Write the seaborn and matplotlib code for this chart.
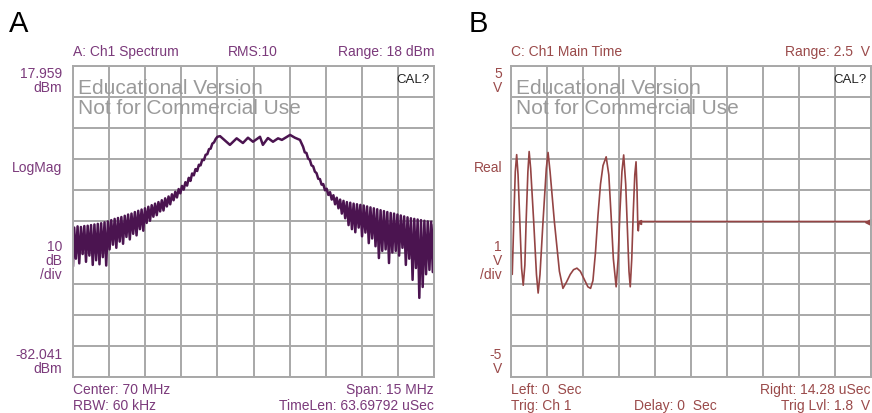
import numpy as np
import pandas as pd
import matplotlib
matplotlib.use("Agg")
import matplotlib.pyplot as plt
import seaborn as sns

# ---------------- data: panel A (spectrum) ----------------
freq_mhz = [
    62.50, 62.55, 62.62, 62.69, 62.76, 62.83, 62.90, 62.97, 63.04, 63.11,
    63.18, 63.25, 63.32, 63.39, 63.46, 63.53, 63.60, 63.67, 63.74, 63.81,
    63.88, 63.95, 64.02, 64.09, 64.16, 64.23, 64.30, 64.37, 64.44, 64.51,
    64.58, 64.65, 64.72, 64.79, 64.86, 64.93, 65.00, 65.07, 65.14, 65.21,
    65.28, 65.35, 65.42, 65.49, 65.56, 65.63, 65.70, 65.77, 65.84, 65.91,
    65.98, 66.05, 66.12, 66.19, 66.26, 66.33, 66.40, 66.47, 66.54, 66.61,
    66.68, 66.75, 66.82, 66.89, 66.96, 67.03, 67.10, 67.17, 67.24, 67.31,
    67.38, 67.45, 67.52, 67.59, 67.66, 67.73, 67.80, 67.87, 67.94, 68.01,
    68.08, 68.15, 68.22, 68.29, 68.36, 68.43, 68.50,
    68.61, 69.02, 69.30, 69.56, 69.77, 69.98, 70.27, 70.39, 70.60, 70.81,
    71.02, 71.18, 71.52, 71.72, 71.93,
    72.06, 72.13, 72.20, 72.27, 72.34, 72.41, 72.48, 72.55, 72.62, 72.69,
    72.76, 72.83, 72.90, 72.97, 73.04, 73.11, 73.18, 73.25, 73.32, 73.39,
    73.46, 73.53, 73.60, 73.67, 73.74, 73.81, 73.88, 73.95, 74.02, 74.09,
    74.16, 74.23, 74.30, 74.37, 74.44, 74.51, 74.58, 74.65, 74.72, 74.79,
    74.86, 74.93, 75.00, 75.07, 75.14, 75.21, 75.28, 75.35, 75.42, 75.49,
    75.56, 75.63, 75.70, 75.77, 75.84, 75.91, 75.98, 76.05, 76.12, 76.19,
    76.26, 76.33, 76.40, 76.47, 76.54, 76.61, 76.68, 76.75, 76.82, 76.89,
    76.96, 77.03, 77.10, 77.17, 77.24, 77.31, 77.38, 77.45, 77.50,
]
level_dbm = [
    -46.5, -34.0, -44.0, -33.6, -45.5, -33.8, -42.5, -33.5, -45.0, -33.4,
    -43.0, -33.2, -46.0, -33.0, -44.5, -32.8, -45.8, -32.6, -43.5, -32.3,
    -46.2, -32.0, -41.0, -31.6, -39.5, -31.2, -40.5, -30.9, -38.5, -30.6,
    -39.2, -30.2, -37.0, -29.8, -37.8, -29.5, -36.0, -29.0, -36.5, -28.6,
    -34.5, -28.2, -35.0, -27.8, -32.5, -27.3, -31.8, -26.8, -30.5, -26.3,
    -30.0, -25.8, -28.8, -25.2, -28.5, -24.6, -27.2, -24.0, -26.5, -23.3,
    -25.2, -22.5, -24.3, -21.6, -23.0, -20.6, -21.8, -19.4, -20.5, -18.0,
    -19.0, -16.6, -17.2, -15.2, -15.8, -13.8, -14.0, -12.2, -12.3, -10.6,
    -10.4, -8.8, -8.6, -7.0, -6.6, -5.5, -4.8,
    -4.6, -7.4, -5.3, -6.8, -5.1, -6.4, -4.8, -7.4, -5.2, -6.4,
    -5.3, -5.8, -4.2, -5.1, -5.8,
    -8.0, -9.8, -10.0, -11.8, -12.2, -14.0, -14.3, -16.0, -16.5, -18.3,
    -18.4, -20.2, -20.0, -22.0, -21.5, -23.5, -22.6, -25.0, -23.6, -26.5,
    -24.4, -27.8, -25.0, -29.5, -25.4, -31.0, -25.8, -33.2, -26.0, -34.5,
    -26.3, -35.5, -26.5, -34.0, -26.7, -36.8, -26.9, -35.6, -27.2, -39.0,
    -27.5, -37.5, -27.8, -40.0, -28.1, -43.8, -28.4, -41.5, -28.7, -41.0,
    -29.0, -45.4, -29.3, -42.0, -29.5, -41.5, -29.8, -43.0, -30.1, -40.5,
    -30.4, -46.0, -30.7, -44.0, -31.0, -50.8, -31.2, -47.0, -31.4, -56.6,
    -31.6, -53.1, -31.8, -49.0, -32.0, -47.6, -32.1, -48.3, -33.0,
]

# ---------------- data: panel B (time waveform) ----------------
time_us = [
    0.00, 0.05, 0.12, 0.17, 0.225, 0.28, 0.35, 0.42, 0.485, 0.55,
    0.60, 0.67, 0.72, 0.78, 0.90, 1.01, 1.077, 1.15, 1.27, 1.40,
    1.47, 1.55, 1.72, 1.92, 2.06, 2.20, 2.35, 2.48, 2.615, 2.75,
    2.90, 3.05, 3.156, 3.25, 3.35, 3.45, 3.55, 3.65, 3.775, 3.88,
    3.97, 4.06, 4.17, 4.25, 4.32, 4.40, 4.47, 4.55, 4.62, 4.68,
    4.73, 4.79, 4.85, 4.91, 4.96, 5.00, 5.03, 5.05, 5.08, 14.28,
]
volts = [
    -0.80, -1.70, 0.30, 1.60, 2.15, 1.50, 0.00, -1.50, -2.05, -1.40,
    0.00, 1.60, 2.25, 1.70, 0.00, -1.70, -2.30, -1.70, 0.00, 1.70,
    2.22, 1.60, 0.00, -1.60, -2.15, -1.95, -1.70, -1.55, -1.50, -1.60,
    -1.85, -2.10, -2.15, -1.90, -1.00, 0.20, 1.20, 1.80, 2.08, 1.50,
    0.20, -1.20, -2.10, -1.20, 0.30, 1.60, 2.14, 1.20, -0.30, -1.60,
    -2.10, -1.20, 0.30, 1.50, 1.92, 1.00, -0.15, -0.30, 0.00, 0.00,
]

# ---------------- text ----------------
a_header = ["A: Ch1 Spectrum", "RMS:10", "Range: 18 dBm"]
a_left = [["17.959", "dBm"], ["LogMag"], ["10", "dB", "/div"], ["-82.041", "dBm"]]
a_bottom = [["Center: 70 MHz", "RBW: 60 kHz"], ["Span: 15 MHz", "TimeLen: 63.69792 uSec"]]
b_header = ["C: Ch1 Main Time", "Range: 2.5  V"]
b_left = [["5", "V"], ["Real"], ["1", "V", "/div"], ["-5", "V"]]
b_bottom = [["Left: 0  Sec", "Trig: Ch 1"], ["Delay: 0  Sec"], ["Right: 14.28 uSec", "Trig Lvl: 1.8  V"]]

sns.set_style("white")
plt.rcParams["font.family"] = ["Liberation Sans", "DejaVu Sans"]

W, H = 872, 413
fig = plt.figure(figsize=(W / 100, H / 100), dpi=100)

def px_axes(x0, y0, x1, y1):
    return fig.add_axes([x0 / W, 1 - y1 / H, (x1 - x0) / W, (y1 - y0) / H])

axA = px_axes(73, 66, 434, 377)
axB = px_axes(511, 66, 871, 377)

grid_c = "#a8a8a8"
colA_txt = "#7b3a7b"
colA_line = "#4b1450"
colB_txt = "#9a4a4a"
colB_line = "#944444"

def style_grid(ax, xlim, ylim):
    ax.set_xlim(*xlim)
    ax.set_ylim(*ylim)
    ax.set_xticks(np.linspace(xlim[0], xlim[1], 11))
    ax.set_yticks(np.linspace(ylim[0], ylim[1], 11))
    ax.grid(True, color=grid_c, lw=1.4)
    ax.tick_params(length=0, labelbottom=False, labelleft=False)
    ax.set_xlabel("")
    ax.set_ylabel("")
    for s in ax.spines.values():
        s.set_color(grid_c)
        s.set_linewidth(1.4)
    ax.set_axisbelow(True)

dfA = pd.DataFrame({"f": freq_mhz, "lvl": level_dbm})
sns.lineplot(data=dfA, x="f", y="lvl", ax=axA, color=colA_line, lw=1.8,
             sort=False, estimator=None)
style_grid(axA, (62.5, 77.5), (-82.041, 17.959))

dfB = pd.DataFrame({"t": time_us, "v": volts})
sns.lineplot(data=dfB, x="t", y="v", ax=axB, color=colB_line, lw=1.2,
             sort=False, estimator=None)
style_grid(axB, (0, 14.28), (-5, 5))
axB.plot([5.08], [0], marker="<", ms=3, color=colB_line)
axB.plot([14.16], [0], marker="<", ms=4, color=colB_line, clip_on=False)

def ftext(x, y, s, **kw):
    fig.text(x / W, 1 - y / H, s, va="center", **kw)

def lines(x, ys, items, **kw):
    for y, s in zip(ys, items):
        ftext(x, y, s, **kw)

fs = 10
# watermark & CAL?
for x0, x1 in [(73, 434), (511, 871)]:
    ftext(x0 + 5, 89, "Educational Version", fontsize=15, color="#9a9a9a")
    ftext(x0 + 5, 109, "Not for Commercial Use", fontsize=15, color="#9a9a9a")
    ftext(x1 - 4, 80, "CAL?", fontsize=9.5, color="#222222", ha="right")

# Panel letters
ftext(9, 24, "A", fontsize=21, color="black")
ftext(469, 24, "B", fontsize=21, color="black")

# Panel A texts
ftext(73, 52, a_header[0], fontsize=fs, color=colA_txt)
ftext(253, 52, a_header[1], fontsize=fs, color=colA_txt, ha="center")
ftext(434, 52, a_header[2], fontsize=fs, color=colA_txt, ha="right")
lines(62, [74, 88], a_left[0], fontsize=fs, color=colA_txt, ha="right")
lines(62, [168], a_left[1], fontsize=fs, color=colA_txt, ha="right")
lines(62, [247, 261, 275], a_left[2], fontsize=fs, color=colA_txt, ha="right")
lines(62, [355, 369], a_left[3], fontsize=fs, color=colA_txt, ha="right")
lines(73, [390, 406], a_bottom[0], fontsize=fs, color=colA_txt)
lines(434, [390, 406], a_bottom[1], fontsize=fs, color=colA_txt, ha="right")

# Panel B texts
ftext(511, 52, b_header[0], fontsize=fs, color=colB_txt)
ftext(870, 52, b_header[1], fontsize=fs, color=colB_txt, ha="right")
lines(502, [74, 88], b_left[0], fontsize=fs, color=colB_txt, ha="right")
lines(502, [168], b_left[1], fontsize=fs, color=colB_txt, ha="right")
lines(502, [247, 261, 275], b_left[2], fontsize=fs, color=colB_txt, ha="right")
lines(502, [355, 369], b_left[3], fontsize=fs, color=colB_txt, ha="right")
lines(511, [390, 406], b_bottom[0], fontsize=fs, color=colB_txt)
lines(634, [406], b_bottom[1], fontsize=fs, color=colB_txt)
lines(870, [390, 406], b_bottom[2], fontsize=fs, color=colB_txt, ha="right")

fig.savefig("out.png", dpi=100)
